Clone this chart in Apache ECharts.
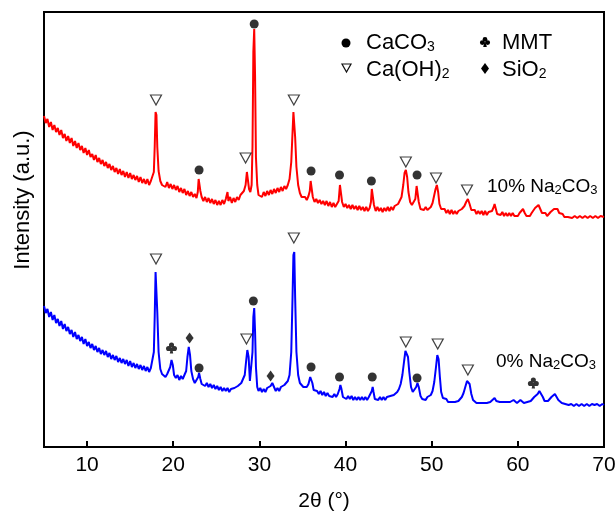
<!DOCTYPE html>
<html>
<head>
<meta charset="utf-8">
<script src="https://cdn.jsdelivr.net/npm/echarts@6/dist/echarts.min.js"></script>
<style>
  html, body { margin: 0; padding: 0; background: #fff; }
  #chart { width: 616px; height: 514px; }
</style>
</head>
<body>
<div id="chart"></div>
<script>
// x axis ticks (2theta, degrees)
const xTicks = [10, 20, 30, 40, 50, 60, 70]

// 10% Na2CO3 pattern, [2theta, intensity a.u.]
const pattern10 = [
  [5,331],[5.2,324],[5.4,328],[5.6,320],[5.8,325],[6,317],[6.2,322],[6.4,315],[6.6,319],[6.8,312],
  [7,317],[7.2,309],[7.4,313],[7.6,306],[7.8,311],[8,304],[8.2,309],[8.4,301],[8.6,306],[8.8,299],
  [9,304],[9.2,297],[9.4,301],[9.6,294],[9.8,299],[10,292],[10.2,297],[10.4,290],[10.6,293],[10.8,287],
  [11,292],[11.2,285],[11.4,289],[11.6,283],[11.8,287],[12,281],[12.2,285],[12.4,279],[12.6,283],[12.8,277],
  [13,281],[13.2,275],[13.4,279],[13.6,273],[13.8,278],[14,272],[14.2,276],[14.4,270],[14.6,275],[14.8,269],
  [15,274],[15.2,268],[15.4,272],[15.6,267],[15.8,271],[16,265],[16.2,270],[16.4,264],[16.6,268],[16.8,263],
  [17,268],[17.2,262],[17.4,266],[17.6,267],[17.75,275],[17.85,300],[17.95,335],[18.05,332],[18.15,300],[18.3,276],
  [18.5,266],[18.7,262],[18.9,264],[19.1,260],[19.3,265],[19.5,259],[19.7,263],[19.9,258],[20.1,262],[20.3,257],
  [20.5,261],[20.7,255],[20.9,259],[21.1,254],[21.3,258],[21.5,252],[21.7,256],[21.9,251],[22.1,255],[22.3,250],
  [22.5,253],[22.7,249],[22.85,255],[22.95,268],[23.05,270],[23.15,256],[23.3,250],[23.5,246],[23.7,250],[23.9,245],
  [24.1,249],[24.3,244],[24.5,248],[24.7,243],[24.9,247],[25.1,242],[25.3,246],[25.5,242],[25.7,247],[25.9,243],
  [26.1,248],[26.3,255],[26.4,246],[26.6,250],[26.8,244],[27,249],[27.2,245],[27.4,250],[27.6,247],[27.8,252],
  [28,251],[28.2,256],[28.4,262],[28.55,275],[28.65,274],[28.8,258],[28.95,255],[29.1,262],[29.2,300],[29.3,395],
  [29.4,418],[29.5,370],[29.6,290],[29.75,262],[29.9,252],[30.1,254],[30.3,250],[30.5,255],[30.7,251],[30.9,256],
  [31.1,252],[31.3,257],[31.5,253],[31.7,258],[31.9,254],[32.1,259],[32.3,255],[32.5,260],[32.7,256],[32.9,261],
  [33.1,258],[33.3,262],[33.5,268],[33.7,285],[33.85,315],[33.95,335],[34.05,334],[34.15,310],[34.3,280],[34.5,262],
  [34.7,254],[34.9,250],[35.1,248],[35.3,250],[35.5,247],[35.7,251],[35.85,256],[35.95,266],[36.05,264],[36.2,250],
  [36.4,245],[36.6,248],[36.8,244],[37,247],[37.2,243],[37.4,246],[37.6,242],[37.8,246],[38,241],[38.2,245],
  [38.4,240],[38.6,244],[38.8,240],[39,243],[39.2,246],[39.35,262],[39.45,263],[39.6,245],[39.8,240],[40,243],
  [40.2,239],[40.4,242],[40.6,238],[40.8,242],[41,238],[41.2,241],[41.4,237],[41.6,241],[41.8,237],[42,240],
  [42.2,236],[42.4,240],[42.6,236],[42.8,239],[42.95,245],[43.05,258],[43.15,259],[43.3,242],[43.5,236],[43.7,240],
  [43.9,236],[44.1,239],[44.3,235],[44.5,239],[44.7,236],[44.9,240],[45.1,236],[45.3,240],[45.5,237],[45.7,241],
  [45.9,239],[46.1,243],[46.3,244],[46.5,250],[46.7,262],[46.85,274],[47,277],[47.15,270],[47.3,255],[47.5,245],
  [47.7,242],[47.9,243],[48.1,248],[48.25,261],[48.35,260],[48.5,245],[48.7,238],[48.9,240],[49.1,237],[49.3,240],
  [49.5,237],[49.7,239],[49.9,240],[50.1,244],[50.3,252],[50.45,258],[50.6,262],[50.75,255],[50.9,243],[51.1,238],
  [51.3,236],[51.5,238],[51.7,234],[51.9,237],[52.1,233],[52.3,237],[52.5,233],[52.7,236],[52.9,233],[53.1,236],
  [53.3,234],[53.5,238],[53.8,241],[54,245],[54.2,248],[54.4,243],[54.6,237],[54.8,235],[55,237],[55.2,233],
  [55.4,236],[55.6,233],[55.8,236],[56,232],[56.2,236],[56.4,232],[56.6,235],[56.8,233],[57,236],[57.2,240],
  [57.3,243],[57.45,238],[57.6,233],[57.8,235],[58,232],[58.2,235],[58.4,231],[58.6,234],[58.8,231],[59,234],
  [59.2,231],[59.4,234],[59.6,231],[59.8,233],[60,231],[60.2,234],[60.4,236],[60.6,238],[60.8,234],[61,231],
  [61.2,233],[61.4,231],[61.6,234],[61.8,236],[62,239],[62.2,241],[62.4,242],[62.6,238],[62.8,234],[63,232],
  [63.2,234],[63.4,231],[63.6,233],[63.8,235],[64,237],[64.2,238],[64.4,240],[64.6,238],[64.8,234],[65,232],
  [65.2,233],[65.4,230],[65.6,232],[65.8,230],[66,232],[66.3,229],[66.6,231],[66.9,229],[67.2,231],[67.5,229],
  [67.8,231],[68.1,229],[68.4,231],[68.7,229],[69,231],[69.3,229],[69.6,231],[70,230]
]

// 0% Na2CO3 pattern
const pattern0 = [
  [5,141],[5.2,134],[5.4,138],[5.6,130],[5.8,135],[6,127],[6.2,132],[6.4,124],[6.6,128],[6.8,121],
  [7,126],[7.2,118],[7.4,123],[7.6,116],[7.8,120],[8,113],[8.2,117],[8.4,110],[8.6,115],[8.8,108],
  [9,112],[9.2,106],[9.4,110],[9.6,103],[9.8,108],[10,101],[10.2,105],[10.4,99],[10.6,103],[10.8,97],
  [11,101],[11.2,95],[11.4,99],[11.6,93],[11.8,97],[12,92],[12.2,96],[12.4,90],[12.6,94],[12.8,88],
  [13,92],[13.2,87],[13.4,91],[13.6,85],[13.8,89],[14,84],[14.2,88],[14.4,83],[14.6,87],[14.8,81],
  [15,86],[15.2,80],[15.4,84],[15.6,79],[15.8,83],[16,78],[16.2,82],[16.4,77],[16.6,81],[16.8,76],
  [17,80],[17.2,75],[17.4,79],[17.6,80],[17.75,95],[17.85,130],[17.95,175],[18.05,176],[18.15,135],[18.3,95],
  [18.5,78],[18.7,73],[18.9,75],[19.1,70],[19.3,73],[19.5,72],[19.65,80],[19.8,87],[19.95,82],[20.1,72],
  [20.3,69],[20.5,72],[20.7,67],[20.9,71],[21.1,68],[21.3,72],[21.5,76],[21.65,90],[21.8,100],[21.95,92],
  [22.1,76],[22.3,68],[22.5,64],[22.7,67],[22.9,70],[23,74],[23.15,68],[23.3,63],[23.5,65],[23.7,61],
  [23.9,64],[24.1,60],[24.3,63],[24.5,59],[24.7,62],[24.9,58],[25.1,61],[25.3,57],[25.5,60],[25.7,56],
  [25.9,59],[26.1,56],[26.3,59],[26.5,55],[26.7,58],[26.9,56],[27.1,59],[27.3,57],[27.5,61],[27.7,60],
  [27.9,64],[28.1,66],[28.3,72],[28.45,85],[28.6,97],[28.75,90],[28.9,66],[29.05,68],[29.2,95],[29.3,130],
  [29.4,139],[29.5,115],[29.6,80],[29.75,60],[29.9,56],[30.1,59],[30.3,55],[30.5,58],[30.7,55],[30.9,59],
  [31.1,57],[31.3,61],[31.5,64],[31.7,60],[31.9,56],[32.1,59],[32.3,56],[32.5,60],[32.7,58],[32.9,62],
  [33.1,61],[33.3,66],[33.5,72],[33.7,95],[33.85,150],[33.95,192],[34.05,195],[34.15,150],[34.3,95],[34.5,72],
  [34.7,64],[34.9,62],[35.1,60],[35.3,62],[35.5,60],[35.7,63],[35.9,70],[36,72],[36.15,64],[36.3,57],
  [36.5,55],[36.7,56],[36.9,53],[37.1,56],[37.3,52],[37.5,55],[37.7,51],[37.9,54],[38.1,51],[38.3,53],
  [38.5,50],[38.7,53],[38.9,50],[39.1,53],[39.3,58],[39.4,62],[39.5,59],[39.7,50],[39.9,52],[40.1,48],
  [40.3,51],[40.5,48],[40.7,51],[40.9,47],[41.1,50],[41.3,47],[41.5,50],[41.7,47],[41.9,50],[42.1,47],
  [42.3,50],[42.5,47],[42.7,50],[42.9,48],[43.05,56],[43.15,60],[43.25,55],[43.4,48],[43.6,50],[43.8,47],
  [44,50],[44.2,47],[44.4,50],[44.6,47],[44.8,50],[45,48],[45.2,51],[45.4,49],[45.6,52],[45.8,52],
  [46,55],[46.2,58],[46.4,63],[46.6,72],[46.8,86],[46.95,96],[47.1,97],[47.25,90],[47.4,75],[47.6,60],
  [47.8,55],[48,56],[48.2,60],[48.35,64],[48.5,60],[48.7,51],[48.9,48],[49.1,50],[49.3,47],[49.5,50],
  [49.7,49],[49.9,52],[50.1,56],[50.3,65],[50.5,80],[50.65,92],[50.8,88],[50.95,70],[51.1,55],[51.3,49],
  [51.5,47],[51.7,48],[51.9,45],[52.1,47],[52.3,45],[52.5,47],[52.7,45],[52.9,47],[53.1,46],[53.3,48],
  [53.5,50],[53.7,54],[53.9,60],[54.1,66],[54.25,68],[54.4,63],[54.6,53],[54.8,47],[55,46],[55.2,44],
  [55.4,46],[55.6,44],[55.8,46],[56,44],[56.2,46],[56.4,44],[56.6,46],[56.8,45],[57,47],[57.3,49],
  [57.5,46],[57.7,44],[57.9,45],[58.1,43],[58.3,45],[58.5,43],[58.7,45],[58.9,43],[59.1,45],[59.3,44],
  [59.5,47],[59.7,45],[59.9,44],[60.1,46],[60.3,47],[60.5,45],[60.7,44],[60.9,46],[61.1,45],[61.3,47],
  [61.5,46],[61.7,48],[61.9,50],[62.1,51],[62.3,53],[62.5,56],[62.7,55],[62.9,50],[63.1,46],[63.3,44],
  [63.5,46],[63.7,48],[63.9,50],[64.1,52],[64.3,53],[64.5,51],[64.7,47],[64.9,45],[65.1,44],[65.3,45],
  [65.5,43],[65.7,44],[65.9,42],[66.2,43],[66.5,41],[66.8,43],[67.1,41],[67.4,43],[67.7,41],[68,43],
  [68.3,41],[68.6,43],[68.9,42],[69.2,43],[69.5,41],[69.8,43],[70,42]
]

// phase marks above the peaks
const calciteMarks = [
  [23, 277], [29.4, 423], [36, 276], [39.3, 272], [43, 266], [48.3, 272],
  [23, 79], [29.3, 146], [36, 80], [39.3, 70], [43.1, 70], [48.3, 69]
]
const portlanditeMarks = [
  [18, 347], [28.4, 289], [34, 347], [47, 285], [50.5, 269], [54.1, 257],
  [18, 188], [28.5, 108], [34, 209], [47, 105], [50.7, 103], [54.2, 77]
]
const mmtMarks = [[19.8, 99], [61.8, 64]]
const quartzMarks = [[21.9, 109], [31.3, 71]]

const FONT = '"Liberation Sans", Arial, sans-serif'
const CLUB = 'path://M12,2.5 A4.5,4.5 0 1,1 11.99,2.5 Z M6.8,8.5 A4.5,4.5 0 1,1 6.79,8.5 Z M17.2,8.5 A4.5,4.5 0 1,1 17.19,8.5 Z M11,12 L13,12 L15,22 L9,22 Z'
const TRI_DOWN = 'path://M0,0 L20,0 L10,18 Z'

// text with subscripts: parts alternate normal / subscript
function subText(x, y, parts, size, subSize) {
  let text = ''
  parts.forEach((p, i) => {
    if (p) text += (i % 2 ? '{s|' : '{a|') + p + '}'
  })
  return {
    type: 'text',
    x: x,
    y: y,
    style: {
      text: text,
      textVerticalAlign: 'middle',
      rich: {
        a: { fontFamily: FONT, fontSize: size, lineHeight: size + 2, verticalAlign: 'bottom', fill: '#000' },
        s: { fontFamily: FONT, fontSize: subSize, lineHeight: size + 2, verticalAlign: 'bottom', fill: '#000' }
      }
    }
  }
}

// club glyph for the legend, built from circles and a stem
function clubGlyph(cx, cy) {
  return {
    type: 'group',
    x: cx,
    y: cy,
    children: [
      { type: 'circle', shape: { cx: 0, cy: -2.6, r: 2.4 }, style: { fill: '#000' } },
      { type: 'circle', shape: { cx: -2.7, cy: 0.6, r: 2.4 }, style: { fill: '#000' } },
      { type: 'circle', shape: { cx: 2.7, cy: 0.6, r: 2.4 }, style: { fill: '#000' } },
      { type: 'polygon', shape: { points: [[-0.6, 0], [0.6, 0], [1.8, 5], [-1.8, 5]] }, style: { fill: '#000' } }
    ]
  }
}

const chart = echarts.init(document.getElementById('chart'))

chart.setOption({
  animation: false,
  grid: {
    left: 44, right: 12, top: 12, bottom: 67,
    outerBoundsMode: 'none',
    show: true, borderColor: '#000', borderWidth: 2
  },
  xAxis: {
    type: 'value',
    min: 5,
    max: 70,
    name: '2θ (°)',
    nameLocation: 'middle',
    nameGap: 44,
    nameTextStyle: { fontFamily: FONT, fontSize: 21, color: '#000' },
    axisLine: { lineStyle: { color: '#000', width: 2 } },
    axisTick: { inside: true, length: 6, customValues: xTicks, lineStyle: { color: '#000', width: 2 } },
    axisLabel: { customValues: xTicks, fontFamily: FONT, fontSize: 21, color: '#000', margin: 8 },
    splitLine: { show: false }
  },
  yAxis: {
    type: 'value',
    min: 0,
    max: 435,
    axisLine: { show: true, lineStyle: { color: '#000', width: 2 } },
    axisTick: { show: false },
    axisLabel: { show: false },
    splitLine: { show: false }
  },
  series: [
    {
      type: 'line', data: pattern10, showSymbol: false,
      lineStyle: { color: '#ff0000', width: 2 }
    },
    {
      type: 'line', data: pattern0, showSymbol: false,
      lineStyle: { color: '#0000ff', width: 2 }
    },
    {
      type: 'scatter', data: calciteMarks, symbol: 'circle', symbolSize: 9,
      itemStyle: { color: '#000' }, z: 5
    },
    {
      type: 'scatter', data: portlanditeMarks, symbol: TRI_DOWN, symbolSize: [11, 10],
      itemStyle: { color: '#fff', borderColor: '#111', borderWidth: 1.2 }, z: 5
    },
    {
      type: 'scatter', data: mmtMarks, symbol: CLUB, symbolSize: [11, 11],
      itemStyle: { color: '#000' }, z: 5
    },
    {
      type: 'scatter', data: quartzMarks, symbol: 'diamond', symbolSize: [8, 11],
      itemStyle: { color: '#000' }, z: 5
    }
  ],
  graphic: [
    {
      type: 'text', x: 23, y: 200, rotation: Math.PI / 2,
      style: { text: 'Intensity (a.u.)', font: '22px ' + FONT, fill: '#000', textAlign: 'center', textVerticalAlign: 'middle' }
    },
    { type: 'circle', shape: { cx: 346, cy: 43, r: 4.5 }, style: { fill: '#000' } },
    { type: 'polygon', shape: { points: [[342, 64], [351, 64], [346.5, 72]] }, style: { fill: '#fff', stroke: '#111', lineWidth: 1.2 } },
    clubGlyph(485, 42),
    { type: 'polygon', shape: { points: [[485, 63], [489, 68.5], [485, 74], [481, 68.5]] }, style: { fill: '#000' } },
    subText(366, 42, ['CaCO', '3'], 22, 14),
    subText(366, 69, ['Ca(OH)', '2'], 22, 14),
    subText(502, 42, ['MMT'], 22, 14),
    subText(502, 69, ['SiO', '2'], 22, 14),
    subText(487, 186, ['10% Na', '2', 'CO', '3'], 19, 13),
    subText(496, 361, ['0% Na', '2', 'CO', '3'], 19, 13)
  ]
})
</script>
</body>
</html>
